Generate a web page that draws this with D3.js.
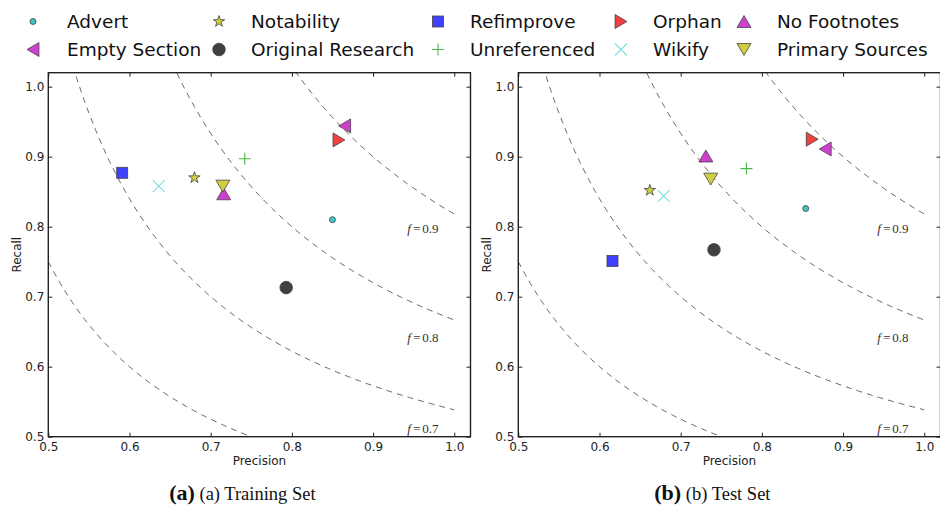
<!DOCTYPE html>
<html>
<head>
<meta charset="utf-8">
<script src="https://cdn.jsdelivr.net/npm/d3@7"></script>
<style>
  body { margin: 0; background: #fff; }
  svg { display: block; }
</style>
</head>
<body>
<div id="vis"></div>
<script>
// categories and the marker each one uses
var categories = ["Advert", "Empty Section", "Notability", "Original Research", "Refimprove",
                  "Unreferenced", "Orphan", "Wikify", "No Footnotes", "Primary Sources"];

// training set
var trainPrecision = [0.850, 0.865, 0.680, 0.793, 0.591, 0.742, 0.858, 0.636, 0.716, 0.715];
var trainRecall    = [0.810, 0.944, 0.870, 0.713, 0.877, 0.897, 0.924, 0.858, 0.847, 0.858];

// test set
var testPrecision = [0.854, 0.878, 0.662, 0.741, 0.616, 0.781, 0.862, 0.679, 0.731, 0.737];
var testRecall    = [0.826, 0.911, 0.852, 0.767, 0.751, 0.883, 0.925, 0.844, 0.901, 0.868];

var fLevels = [0.6, 0.7, 0.8, 0.9];
var fLabels = [
    {f: 0.7, p: 0.942, r: 0.506},
    {f: 0.8, p: 0.942, r: 0.636},
    {f: 0.9, p: 0.942, r: 0.791}
];
var ticks = [0.5, 0.6, 0.7, 0.8, 0.9, 1.0];

var styles = {
    "Advert":            {shape: "circle",   r: 3,   fill: "#40c4c4"},
    "Empty Section":     {shape: "triLeft",  r: 7,   fill: "#cf40cf"},
    "Notability":        {shape: "star",     r: 6,   fill: "#cfcf40"},
    "Original Research": {shape: "circle",   r: 6.3, fill: "#404040"},
    "Refimprove":        {shape: "square",   r: 5.5, fill: "#4040ff"},
    "Unreferenced":      {shape: "plus",     r: 6,   fill: "#4cb84c"},
    "Orphan":            {shape: "triRight", r: 7,   fill: "#f04040"},
    "Wikify":            {shape: "x",        r: 6,   fill: "#7fdfdf"},
    "No Footnotes":      {shape: "triUp",    r: 7,   fill: "#cf40cf"},
    "Primary Sources":   {shape: "triDown",  r: 7,   fill: "#cfcf40"}
};

var width = 940, height = 506;
var svg = d3.select("#vis").append("svg")
    .attr("width", width)
    .attr("height", height);

function drawMarker(g, name) {
    var s = styles[name];
    var r = s.r;
    var edge = "#444";
    if (s.shape == "circle") {
        g.append("circle").attr("r", r).attr("fill", s.fill)
            .attr("stroke", edge).attr("stroke-width", 0.8);
    } else if (s.shape == "square") {
        g.append("rect").attr("x", -r).attr("y", -r).attr("width", 2 * r).attr("height", 2 * r)
            .attr("fill", s.fill).attr("stroke", edge).attr("stroke-width", 0.8);
    } else if (s.shape == "star") {
        g.append("path").attr("d", d3.symbol(d3.symbolStar, r * r / 0.8908)())
            .attr("fill", s.fill).attr("stroke", edge).attr("stroke-width", 0.8);
    } else if (s.shape == "plus") {
        g.append("path").attr("d", "M" + (-r) + ",0H" + r + "M0," + (-r) + "V" + r)
            .attr("stroke", s.fill).attr("stroke-width", 1.1);
    } else if (s.shape == "x") {
        g.append("path").attr("d", "M" + (-r) + "," + (-r) + "L" + r + "," + r + "M" + (-r) + "," + r + "L" + r + "," + (-r))
            .attr("stroke", s.fill).attr("stroke-width", 1.1);
    } else {
        var rot = {triUp: 0, triRight: 90, triDown: 180, triLeft: -90}[s.shape];
        var h = r * 0.85;
        g.append("path").attr("d", "M0," + (-h) + "L" + r + "," + h + "L" + (-r) + "," + h + "Z")
            .attr("transform", "rotate(" + rot + ")")
            .attr("fill", s.fill).attr("stroke", edge).attr("stroke-width", 0.8);
    }
}

function panel(left, precision, recall, id, letter, caption) {
    var x = d3.scaleLinear().domain([0.5, 1.02]).range([left, left + 422.2]);
    var y = d3.scaleLinear().domain([0.5, 1.02]).range([436.7, 72.7]);
    var g = svg.append("g");

    g.append("clipPath").attr("id", "clip" + id)
        .append("rect").attr("x", x(0.5)).attr("y", y(1.02))
        .attr("width", x(1.02) - x(0.5)).attr("height", y(0.5) - y(1.02));

    // iso-F curves
    var line = d3.line().x(d => x(d[0])).y(d => y(d[1]));
    fLevels.forEach(function (f) {
        var pts = d3.range(0.5, 1.0001, 0.005).map(p => [p, f * p / (2 * p - f)])
            .filter(d => d[1] > 0 && d[1] < 1.2);
        g.append("path").attr("d", line(pts))
            .attr("clip-path", "url(#clip" + id + ")")
            .attr("fill", "none").attr("stroke", "#444").attr("stroke-width", 0.8)
            .attr("stroke-dasharray", "6,5");
    });
    fLabels.forEach(function (d) {
        var t = g.append("text").attr("x", x(d.p)).attr("y", y(d.r))
            .style("font-family", "'Liberation Serif', serif").style("font-size", "13px").attr("fill", "#333");
        t.append("tspan").style("font-style", "italic").text("f");
        t.append("tspan").attr("dx", 2.5).text("=");
        t.append("tspan").attr("dx", 1.5).text(d.f.toFixed(1));
    });

    // points
    categories.forEach(function (c, i) {
        var m = g.append("g").attr("transform", "translate(" + x(precision[i]) + "," + y(recall[i]) + ")");
        drawMarker(m, c);
    });

    // frame with inward ticks on all sides
    g.append("rect").attr("x", x(0.5)).attr("y", y(1.02))
        .attr("width", x(1.02) - x(0.5)).attr("height", y(0.5) - y(1.02))
        .attr("fill", "none").attr("stroke", "#222").attr("stroke-width", 1.4);

    g.append("g").attr("transform", "translate(0," + y(0.5) + ")")
        .call(d3.axisBottom(x).tickValues(ticks).tickSizeInner(-4).tickSizeOuter(0).tickPadding(6).tickFormat(d3.format(".1f")))
        .call(a => a.select(".domain").remove());
    g.append("g").attr("transform", "translate(0," + y(1.02) + ")")
        .call(d3.axisTop(x).tickValues(ticks).tickSizeInner(-4).tickSizeOuter(0).tickFormat(""))
        .call(a => a.select(".domain").remove());
    g.append("g").attr("transform", "translate(" + x(0.5) + ",0)")
        .call(d3.axisLeft(y).tickValues(ticks).tickSizeInner(-4).tickSizeOuter(0).tickPadding(4).tickFormat(d3.format(".1f")))
        .call(a => a.select(".domain").remove());
    g.append("g").attr("transform", "translate(" + x(1.02) + ",0)")
        .call(d3.axisRight(y).tickValues(ticks).tickSizeInner(-4).tickSizeOuter(0).tickFormat(""))
        .call(a => a.select(".domain").remove());
    g.selectAll(".tick text").style("font-family", "'DejaVu Sans', sans-serif").style("font-size", "12px").attr("fill", "#222");
    g.selectAll(".tick line").attr("stroke", "#222");

    g.append("text").attr("x", (x(0.5) + x(1.02)) / 2).attr("y", 465)
        .attr("text-anchor", "middle").style("font-family", "'DejaVu Sans', sans-serif").style("font-size", "12px")
        .attr("fill", "#222").text("Precision");
    g.append("text").attr("transform", "translate(" + (left - 27) + "," + ((y(0.5) + y(1.02)) / 2) + ") rotate(-90)")
        .attr("text-anchor", "middle").style("font-family", "'DejaVu Sans', sans-serif").style("font-size", "12px")
        .attr("fill", "#222").text("Recall");

    // caption, a little left of the axes centre
    var cap = g.append("text").attr("x", (x(0.5) + x(1.02)) / 2 - 17).attr("y", 500)
        .attr("text-anchor", "middle").style("font-family", "'Liberation Serif', serif").attr("fill", "#111");
    cap.append("tspan").style("font-weight", "bold").style("font-size", "22px").text("(" + letter + ")");
    cap.append("tspan").style("font-size", "18.5px").text(" " + caption);
}

panel(48.3, trainPrecision, trainRecall, "a", "a", "(a) Training Set");
panel(518.3, testPrecision, testRecall, "b", "b", "(b) Test Set");

// legend, two rows, five columns
var legendX = [33, 219, 438, 621, 744];
var labelX = [67, 251, 470, 653, 777];
var rowY = [21.5, 49.5];
categories.forEach(function (c, i) {
    var col = Math.floor(i / 2), row = i % 2;
    var m = svg.append("g").attr("transform", "translate(" + legendX[col] + "," + rowY[row] + ")");
    drawMarker(m, c);
    svg.append("text").attr("x", labelX[col]).attr("y", rowY[row] + 6.5)
        .style("font-family", "'DejaVu Sans', sans-serif").style("font-size", "18.5px")
        .attr("fill", "#111").text(c);
});
</script>
</body>
</html>
